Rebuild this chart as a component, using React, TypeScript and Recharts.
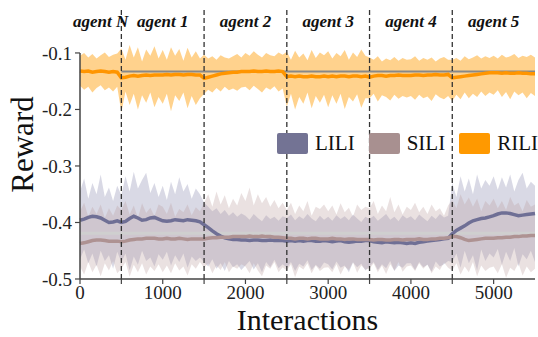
import { ComposedChart, Area, Line, XAxis, YAxis, ReferenceLine, ReferenceArea, Label } from 'recharts'

// sampled every 50 interactions, 0..5500
const STEP = 50

const riliMean = [
  -0.132, -0.133, -0.132, -0.134, -0.133, -0.132, -0.133, -0.134, -0.133, -0.134,
  -0.144, -0.143, -0.141, -0.140, -0.141, -0.140, -0.139, -0.140, -0.139, -0.139,
  -0.139, -0.138, -0.139, -0.138, -0.138, -0.139, -0.138, -0.138, -0.139, -0.139,
  -0.145, -0.143, -0.141, -0.139, -0.137, -0.136, -0.135, -0.134, -0.134, -0.133,
  -0.133, -0.133, -0.132, -0.133, -0.133, -0.132, -0.133, -0.133, -0.132, -0.133,
  -0.142, -0.141, -0.142, -0.141, -0.142, -0.142, -0.141, -0.142, -0.142, -0.141,
  -0.142, -0.141, -0.142, -0.141, -0.141, -0.142, -0.141, -0.141, -0.142, -0.141,
  -0.143, -0.141, -0.140, -0.140, -0.141, -0.140, -0.140, -0.139, -0.140, -0.140,
  -0.140, -0.139, -0.139, -0.140, -0.139, -0.139, -0.138, -0.139, -0.139, -0.138,
  -0.144, -0.143, -0.142, -0.141, -0.140, -0.139, -0.138, -0.137, -0.136, -0.135,
  -0.135, -0.135, -0.136, -0.135, -0.136, -0.136, -0.135, -0.136, -0.136, -0.137, -0.137,
]
const riliHi = [
  -0.105, -0.100, -0.108, -0.102, -0.110, -0.104, -0.099, -0.107, -0.103, -0.101,
  -0.092, -0.112, -0.086, -0.108, -0.090, -0.115, -0.094, -0.105, -0.088, -0.110,
  -0.095, -0.112, -0.090, -0.105, -0.093, -0.114, -0.091, -0.108, -0.097, -0.110,
  -0.103, -0.110, -0.106, -0.112, -0.104, -0.108, -0.110, -0.106, -0.102, -0.108,
  -0.100, -0.105, -0.097, -0.103, -0.108, -0.100, -0.104, -0.106, -0.099, -0.103,
  -0.098, -0.112, -0.096, -0.108, -0.101, -0.113, -0.095, -0.109, -0.099, -0.104,
  -0.097, -0.110, -0.100, -0.106, -0.095, -0.112, -0.099, -0.107, -0.094, -0.105,
  -0.108, -0.112, -0.106, -0.115, -0.110, -0.113, -0.107, -0.114, -0.109, -0.112,
  -0.111, -0.106, -0.114, -0.109, -0.112, -0.108, -0.115, -0.110, -0.107, -0.112,
  -0.112, -0.109, -0.114, -0.106, -0.111, -0.108, -0.104, -0.110, -0.106, -0.109,
  -0.105, -0.110, -0.103, -0.108, -0.106, -0.102, -0.109, -0.105, -0.107, -0.103, -0.108,
]
const riliLo = [
  -0.158, -0.165, -0.160, -0.170, -0.162, -0.157, -0.166, -0.161, -0.168, -0.160,
  -0.205, -0.168, -0.192, -0.172, -0.200, -0.175, -0.188, -0.170, -0.196, -0.178,
  -0.190, -0.172, -0.203, -0.175, -0.185, -0.170, -0.198, -0.176, -0.192, -0.180,
  -0.172, -0.165, -0.170, -0.162, -0.168, -0.160, -0.166, -0.163, -0.167, -0.161,
  -0.160, -0.166, -0.158, -0.164, -0.170, -0.161, -0.165, -0.159, -0.168, -0.163,
  -0.195, -0.172, -0.200, -0.178, -0.190, -0.170, -0.198, -0.176, -0.188, -0.174,
  -0.196, -0.175, -0.190, -0.172, -0.199, -0.178, -0.186, -0.173, -0.197, -0.180,
  -0.180, -0.172, -0.186, -0.175, -0.178, -0.184, -0.174, -0.181, -0.176, -0.179,
  -0.176, -0.183, -0.174, -0.180, -0.177, -0.185, -0.173, -0.179, -0.182, -0.176,
  -0.185, -0.174, -0.182, -0.170, -0.180, -0.172, -0.178, -0.168, -0.176, -0.170,
  -0.174, -0.166, -0.178, -0.169, -0.182, -0.168, -0.175, -0.170, -0.180, -0.171, -0.176,
]

const liliMean = [
  -0.396, -0.394, -0.391, -0.389, -0.390, -0.392, -0.396, -0.400, -0.399, -0.397,
  -0.400, -0.398, -0.393, -0.389, -0.392, -0.396, -0.395, -0.392, -0.391, -0.394,
  -0.397, -0.398, -0.397, -0.395, -0.396, -0.397, -0.395, -0.396, -0.397, -0.399,
  -0.404, -0.409, -0.415, -0.420, -0.424, -0.427, -0.429, -0.430, -0.430, -0.431,
  -0.431, -0.432, -0.431, -0.431, -0.432, -0.432, -0.431, -0.432, -0.432, -0.432,
  -0.433, -0.432, -0.433, -0.432, -0.433, -0.432, -0.432, -0.433, -0.433, -0.432,
  -0.433, -0.434, -0.433, -0.432, -0.434, -0.435, -0.434, -0.433, -0.433, -0.432,
  -0.432, -0.434, -0.435, -0.436, -0.434, -0.435, -0.436, -0.435, -0.436, -0.437,
  -0.436, -0.437, -0.435, -0.434, -0.433, -0.432, -0.431, -0.430, -0.429, -0.428,
  -0.420, -0.414, -0.410, -0.406, -0.401, -0.397, -0.395, -0.393, -0.392, -0.390,
  -0.388, -0.385, -0.383, -0.383, -0.384, -0.386, -0.388, -0.387, -0.386, -0.385, -0.384,
]
const liliHi = [
  -0.345, -0.322, -0.358, -0.330, -0.350, -0.315, -0.355, -0.338, -0.362, -0.335,
  -0.352, -0.318, -0.345, -0.310, -0.340, -0.325, -0.312, -0.348, -0.330, -0.355,
  -0.335, -0.360, -0.328, -0.350, -0.320, -0.345, -0.332, -0.358, -0.340, -0.350,
  -0.365, -0.372, -0.380, -0.375, -0.385, -0.378, -0.388, -0.382, -0.390, -0.384,
  -0.388, -0.395, -0.385, -0.392, -0.398, -0.387, -0.394, -0.390, -0.397, -0.389,
  -0.392, -0.386, -0.396, -0.389, -0.394, -0.385, -0.393, -0.398, -0.388, -0.395,
  -0.390, -0.397, -0.387, -0.394, -0.389, -0.396, -0.386, -0.393, -0.399, -0.390,
  -0.394, -0.388, -0.397, -0.391, -0.385, -0.395, -0.390, -0.398, -0.387, -0.393,
  -0.389, -0.396, -0.386, -0.392, -0.398, -0.388, -0.394, -0.385, -0.391, -0.388,
  -0.330, -0.355, -0.318, -0.345, -0.322, -0.350, -0.315, -0.340, -0.325, -0.335,
  -0.318, -0.342, -0.320, -0.338, -0.315, -0.345, -0.325, -0.312, -0.340, -0.328, -0.335,
]
const liliLo = [
  -0.465, -0.448, -0.472, -0.455, -0.478, -0.450, -0.468, -0.458, -0.482, -0.452,
  -0.470, -0.455, -0.485, -0.460, -0.475, -0.450, -0.468, -0.462, -0.478, -0.456,
  -0.466, -0.452, -0.476, -0.458, -0.470, -0.455, -0.480, -0.460, -0.468, -0.462,
  -0.470, -0.478, -0.465, -0.482, -0.472, -0.486, -0.468, -0.479, -0.474, -0.484,
  -0.476, -0.468, -0.483, -0.472, -0.488, -0.470, -0.479, -0.466, -0.481, -0.474,
  -0.480, -0.470, -0.486, -0.473, -0.478, -0.467, -0.484, -0.475, -0.482, -0.471,
  -0.474, -0.483, -0.469, -0.480, -0.476, -0.488, -0.471, -0.479, -0.473, -0.485,
  -0.478, -0.470, -0.484, -0.474, -0.481, -0.468, -0.486, -0.476, -0.480, -0.472,
  -0.472, -0.484, -0.470, -0.479, -0.475, -0.487, -0.469, -0.478, -0.474, -0.468,
  -0.470, -0.455, -0.480, -0.450, -0.472, -0.458, -0.485, -0.448, -0.468, -0.455,
  -0.462, -0.447, -0.475, -0.452, -0.468, -0.445, -0.478, -0.456, -0.465, -0.450, -0.470,
]

const siliMean = [
  -0.437, -0.436, -0.434, -0.432, -0.431, -0.431, -0.432, -0.433, -0.433, -0.433,
  -0.434, -0.433, -0.431, -0.430, -0.429, -0.429, -0.428, -0.428, -0.428, -0.429,
  -0.429, -0.428, -0.429, -0.429, -0.428, -0.429, -0.430, -0.429, -0.429, -0.429,
  -0.429, -0.428, -0.427, -0.427, -0.426, -0.426, -0.426, -0.425, -0.425, -0.425,
  -0.425, -0.424, -0.425, -0.425, -0.424, -0.425, -0.425, -0.426, -0.426, -0.427,
  -0.428, -0.428, -0.429, -0.428, -0.428, -0.429, -0.428, -0.428, -0.429, -0.429,
  -0.429, -0.428, -0.429, -0.429, -0.430, -0.429, -0.429, -0.430, -0.430, -0.430,
  -0.430, -0.431, -0.430, -0.430, -0.431, -0.431, -0.430, -0.430, -0.431, -0.430,
  -0.430, -0.430, -0.429, -0.430, -0.430, -0.429, -0.429, -0.428, -0.428, -0.427,
  -0.425, -0.425, -0.427, -0.430, -0.432, -0.431, -0.430, -0.429, -0.428, -0.428,
  -0.428, -0.427, -0.427, -0.426, -0.426, -0.425, -0.425, -0.424, -0.424, -0.423, -0.423,
]
const siliHi = [
  -0.380, -0.365, -0.390, -0.372, -0.385, -0.368, -0.392, -0.375, -0.388, -0.370,
  -0.378, -0.362, -0.386, -0.370, -0.392, -0.366, -0.383, -0.374, -0.389, -0.368,
  -0.372, -0.385, -0.365, -0.390, -0.376, -0.382, -0.368, -0.387, -0.373, -0.380,
  -0.365, -0.350, -0.372, -0.345, -0.368, -0.352, -0.375, -0.358, -0.370, -0.348,
  -0.362, -0.338, -0.370, -0.350, -0.366, -0.355, -0.372, -0.360, -0.375, -0.365,
  -0.378, -0.365, -0.385, -0.370, -0.380, -0.362, -0.388, -0.372, -0.376, -0.368,
  -0.380, -0.370, -0.386, -0.366, -0.382, -0.374, -0.390, -0.368, -0.378, -0.372,
  -0.375, -0.362, -0.385, -0.370, -0.380, -0.355, -0.382, -0.368, -0.386, -0.372,
  -0.378, -0.365, -0.382, -0.372, -0.385, -0.368, -0.380, -0.375, -0.388, -0.370,
  -0.360, -0.375, -0.350, -0.368, -0.356, -0.372, -0.358, -0.380, -0.362, -0.370,
  -0.358, -0.375, -0.362, -0.378, -0.355, -0.370, -0.365, -0.380, -0.360, -0.372, -0.368,
]
const siliLo = [
  -0.478, -0.492, -0.470, -0.488, -0.475, -0.495, -0.472, -0.485, -0.468, -0.490,
  -0.482, -0.470, -0.496, -0.475, -0.488, -0.472, -0.492, -0.478, -0.486, -0.474,
  -0.488, -0.476, -0.490, -0.472, -0.485, -0.478, -0.494, -0.474, -0.482, -0.470,
  -0.480, -0.472, -0.490, -0.476, -0.484, -0.470, -0.488, -0.478, -0.482, -0.474,
  -0.478, -0.490, -0.472, -0.485, -0.495, -0.476, -0.482, -0.470, -0.488, -0.479,
  -0.485, -0.474, -0.497, -0.478, -0.483, -0.472, -0.490, -0.476, -0.486, -0.480,
  -0.479, -0.488, -0.474, -0.492, -0.478, -0.484, -0.470, -0.489, -0.476, -0.483,
  -0.482, -0.472, -0.488, -0.476, -0.491, -0.474, -0.485, -0.470, -0.487, -0.478,
  -0.476, -0.486, -0.472, -0.482, -0.474, -0.490, -0.478, -0.484, -0.471, -0.480,
  -0.485, -0.472, -0.492, -0.478, -0.488, -0.470, -0.495, -0.476, -0.486, -0.480,
  -0.478, -0.490, -0.474, -0.498, -0.480, -0.486, -0.472, -0.494, -0.478, -0.488, -0.482,
]

const agents = ['agent N', 'agent 1', 'agent 2', 'agent 3', 'agent 4', 'agent 5']
const agentEdges = [0, 500, 1500, 2500, 3500, 4500, 5500]
const switches = [500, 1500, 2500, 3500, 4500]
const xTicks = [0, 500, 1000, 1500, 2000, 2500, 3000, 3500, 4000, 4500, 5000]
const yTicks = [-0.5, -0.4, -0.3, -0.2, -0.1]
const riliRef = -0.133
const lowRef = -0.419

const legendItems = [
  { name: 'LILI', color: '#737394' },
  { name: 'SILI', color: '#a89090' },
  { name: 'RILI', color: '#ff9900' },
]

const data = riliMean.map((_, i) => ({
  x: i * STEP,
  riliMean: riliMean[i],
  riliBand: [riliLo[i], riliHi[i]],
  liliMean: liliMean[i],
  liliBand: [liliLo[i], liliHi[i]],
  siliMean: siliMean[i],
  siliBand: [siliLo[i], siliHi[i]],
}))

const FONT = 'Liberation Serif'
const tickFont = { fontSize: 19, fontFamily: FONT, fill: '#222' }

export default function App() {
  return (
    <div style={{ position: 'absolute', left: 0, top: 0, width: 538, height: 337, background: '#fff', fontFamily: FONT }}>
      <ComposedChart width={538} height={337} data={data} margin={{ top: 10, right: 3, bottom: 0, left: 0 }} style={{ fontFamily: FONT }}>
        <XAxis
          type="number" dataKey="x" domain={[0, 5500]} ticks={xTicks} interval={0}
          height={58} tickSize={5} tickMargin={2} tick={tickFont}
          tickFormatter={(v: number) => (v % 1000 === 0 ? String(v) : '')}
          axisLine={{ stroke: '#444', strokeWidth: 1.5 }} tickLine={{ stroke: '#444', strokeWidth: 1.2 }}
        >
          <Label value="Interactions" position="insideBottom" offset={7} fontSize={30} fontFamily={FONT} fill="#111" />
        </XAxis>
        <YAxis
          type="number" domain={[-0.5, -0.024]} ticks={yTicks} width={80} allowDataOverflow
          tickSize={5} tickMargin={3} tick={tickFont} axisLine={false}
          tickFormatter={(v: number) => v.toFixed(1)}
          tickLine={{ stroke: '#444', strokeWidth: 1.2 }}
        >
          <Label value="Reward" angle={-90} position="insideLeft" offset={22} fontSize={31} fontFamily={FONT} fill="#111" style={{ textAnchor: 'middle' }} />
        </YAxis>

        <Area dataKey="liliBand" type="linear" stroke="none" fill="#8080a8" fillOpacity={0.3} isAnimationActive={false} />
        <Area dataKey="siliBand" type="linear" stroke="none" fill="#b89a9a" fillOpacity={0.3} isAnimationActive={false} />
        <Area dataKey="riliBand" type="linear" stroke="none" fill="#ffa010" fillOpacity={0.48} isAnimationActive={false} />

        <ReferenceLine segment={[{ x: 500, y: riliRef }, { x: 5500, y: riliRef }]} stroke="#888" strokeWidth={2} />
        <ReferenceLine y={lowRef} stroke="#cfcfcf" strokeWidth={3} />

        <Line dataKey="liliMean" type="linear" stroke="#6f6f95" strokeWidth={3.5} dot={false} isAnimationActive={false} />
        <Line dataKey="siliMean" type="linear" stroke="#ae9292" strokeWidth={3.5} dot={false} isAnimationActive={false} />
        <Line dataKey="riliMean" type="linear" stroke="#ff9500" strokeWidth={3.5} dot={false} isAnimationActive={false} />

        {switches.map((s) => (
          <ReferenceLine key={s} x={s} stroke="#333" strokeWidth={1.3} strokeDasharray="5 3" />
        ))}
        <ReferenceLine segment={[{ x: 0, y: -0.5 }, { x: 0, y: -0.1 }]} stroke="#444" strokeWidth={1.5} />

        {agents.map((a, i) => (
          <ReferenceArea
            key={a} x1={agentEdges[i]} x2={agentEdges[i + 1]} y1={-0.064} y2={-0.024}
            fill="none" stroke="none"
            label={{ value: a, position: 'center', fontSize: 17, fontFamily: FONT, fontStyle: 'italic', fontWeight: 'bold', fill: '#111' }}
          />
        ))}
      </ComposedChart>

      <div style={{ position: 'absolute', left: 277, top: 131, display: 'flex', alignItems: 'center', fontSize: 21, color: '#111' }}>
        {legendItems.map((it) => (
          <div key={it.name} style={{ display: 'flex', alignItems: 'center', marginRight: 14 }}>
            <div style={{ width: 31, height: 21, borderRadius: 2, background: it.color, marginRight: 7 }} />
            <span>{it.name}</span>
          </div>
        ))}
      </div>
    </div>
  )
}
